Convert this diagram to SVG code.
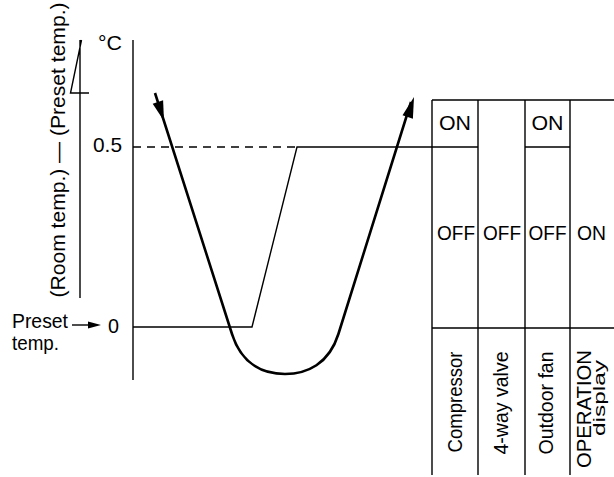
<svg xmlns="http://www.w3.org/2000/svg" width="614" height="477" viewBox="0 0 614 477">
<style>
text{font-family:"Liberation Sans",Arial,sans-serif;font-size:21px;fill:#000}
.thin{stroke:#000;stroke-width:1.4;fill:none}
.thick{stroke:#000;stroke-width:2.6;fill:none}
.ah{fill:#000;stroke:none}
</style>
<rect width="614" height="477" fill="#fff"/>
<g id="y-axis-label">
<text transform="translate(65,150) rotate(-90)" text-anchor="middle" textLength="295" lengthAdjust="spacingAndGlyphs">(Room temp.) — (Preset temp.)</text>
<path class="thin" d="M80,40 V298 M81.5,40 L70.5,93 H89"/>
</g>
<g id="axis">
<path class="thin" d="M133,40 V380"/>
<text x="98" y="50" textLength="24" lengthAdjust="spacingAndGlyphs">°C</text>
<text x="93" y="152" textLength="29" lengthAdjust="spacingAndGlyphs">0.5</text>
<text x="108" y="333" textLength="11" lengthAdjust="spacingAndGlyphs">0</text>
</g>
<g id="preset-label">
<text x="12" y="328" textLength="56" lengthAdjust="spacingAndGlyphs">Preset</text>
<text x="12" y="350" textLength="47" lengthAdjust="spacingAndGlyphs">temp.</text>
<path class="thin" d="M72,325 H90"/>
<polygon class="ah" points="101,325 88,321.5 88,328.5"/>
</g>
<g id="connectors">
<path class="thin" d="M133,147 H297" stroke-dasharray="8,6"/>
<path class="thin" d="M133,327 H252 L297,147 H478 M525,147 H570"/>
<path class="thick" d="M155,93 L232,334 C241.6,364 263,374 285,374 C307,374 329,364 338.4,334 L411,102"/>
<polygon class="ah" points="164,121 152.7,103.7 163.1,100.3"/>
<polygon class="ah" points="414,97 402.5,115.3 412.9,118.7"/>
</g>
<g id="table">
<path class="thin" d="M432,100 H614 M432,328 H614 M432,100 V475 M478,100 V475 M525,100 V475 M570,100 V475"/>
</g>
<g id="compressor">
<text x="455" y="130" text-anchor="middle" textLength="32" lengthAdjust="spacingAndGlyphs">ON</text>
<text x="456" y="240" text-anchor="middle" textLength="38" lengthAdjust="spacingAndGlyphs">OFF</text>
<text transform="translate(462,402) rotate(-90)" text-anchor="middle" textLength="101" lengthAdjust="spacingAndGlyphs">Compressor</text>
</g>
<g id="four-way-valve">
<text x="502" y="240" text-anchor="middle" textLength="38" lengthAdjust="spacingAndGlyphs">OFF</text>
<text transform="translate(508,403) rotate(-90)" text-anchor="middle" textLength="103" lengthAdjust="spacingAndGlyphs">4-way valve</text>
</g>
<g id="outdoor-fan">
<text x="547.5" y="130" text-anchor="middle" textLength="32" lengthAdjust="spacingAndGlyphs">ON</text>
<text x="547.5" y="240" text-anchor="middle" textLength="38" lengthAdjust="spacingAndGlyphs">OFF</text>
<text transform="translate(553,403) rotate(-90)" text-anchor="middle" textLength="103" lengthAdjust="spacingAndGlyphs">Outdoor fan</text>
</g>
<g id="operation-display">
<text x="591.5" y="240" text-anchor="middle" textLength="29" lengthAdjust="spacingAndGlyphs">ON</text>
<text transform="translate(591,409) rotate(-90)" text-anchor="middle" textLength="118" lengthAdjust="spacingAndGlyphs">OPERATION</text>
<text transform="translate(605,398) rotate(-90)" text-anchor="middle" style="font-size:16px" textLength="76" lengthAdjust="spacingAndGlyphs">display</text>
</g>
</svg>
